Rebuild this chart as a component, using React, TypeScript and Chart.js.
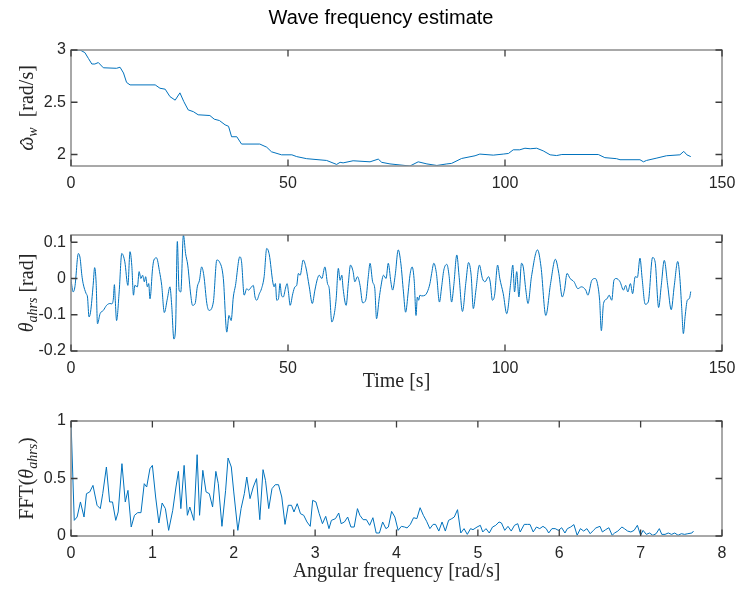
import React, { useEffect, useRef } from 'react';
import { Chart, registerables } from 'chart.js';

Chart.register(...registerables);

const BLUE = '#0072BD';
const TICK_FONT = { family: '"Liberation Sans", Arial, sans-serif', size: 16 };
const TICK_COLOR = '#262626';

const figureTitle = 'Wave frequency estimate';
const timeAxisTitle = 'Time [s]';
const freqAxisTitle = 'Angular frequency [rad/s]';

// --- Plot 1: estimated wave frequency ---
const omegaTime = [0, 2.1, 3.2, 4.0, 4.8, 5.5, 6.3, 7.45, 10.5, 11.3, 12.1, 12.8, 13.6, 19.4, 20.5, 21.7, 22.8, 24.0, 25.1, 26.0, 27.0, 28.2, 29.3, 32.0, 33.0, 34.2, 35.5, 36.3, 37.0, 38.2, 39.3, 43.5, 45.1, 46.2, 48.5, 50.9, 52.0, 54.3, 58.9, 61.2, 62.0, 62.7, 65.0, 68.9, 70.8, 71.6, 73.5, 75.8, 78.1, 80.0, 82.0, 84.3, 86.6, 87.7, 90.0, 93.1, 94.2, 97.3, 99.6, 100.8, 101.9, 103.4, 104.6, 105.8, 107.3, 108.8, 110.4, 111.9, 113.1, 121.5, 123.0, 125.7, 126.5, 131.1, 131.9, 132.6, 135.0, 137.2, 140.3, 141.2, 141.9, 142.8];
const omegaValues = [3.0, 3.0, 2.975, 2.92, 2.866, 2.866, 2.88, 2.83, 2.825, 2.835, 2.78, 2.69, 2.666, 2.666, 2.634, 2.625, 2.554, 2.52, 2.59, 2.506, 2.427, 2.41, 2.38, 2.373, 2.338, 2.325, 2.284, 2.27, 2.17, 2.17, 2.1, 2.1, 2.07, 2.026, 1.997, 1.997, 1.98, 1.96, 1.943, 1.905, 1.925, 1.92, 1.94, 1.93, 1.956, 1.925, 1.91, 1.9, 1.89, 1.93, 1.91, 1.895, 1.91, 1.915, 1.962, 1.988, 2.004, 1.994, 2.004, 2.01, 2.045, 2.045, 2.06, 2.055, 2.06, 2.035, 1.997, 1.99, 2.0, 2.0, 1.97, 1.96, 1.95, 1.95, 1.93, 1.943, 1.966, 1.988, 1.997, 2.03, 1.997, 1.98];
const omegaTicks = [2, 2.5, 3];

// --- Plot 2: AHRS pitch angle ---
const thetaTime = [0, 0.5, 0.9, 1.7, 2.1, 2.5, 2.8, 3.5, 3.8, 4.15, 4.5, 5.1, 5.45, 5.8, 6.1, 6.7, 7.45, 8.2, 9.0, 9.4, 9.75, 10.0, 10.2, 10.5, 11.1, 11.7, 12.4, 13.1, 13.6, 14.0, 14.4, 14.7, 15.3, 15.7, 16.1, 16.5, 16.9, 17.2, 17.6, 17.9, 18.2, 18.8, 19.1, 19.7, 20.4, 20.9, 21.5, 22.2, 22.8, 23.2, 23.7, 24.1, 24.5, 24.9, 25.3, 25.9, 26.4, 26.9, 27.6, 28.0, 28.6, 29.1, 29.6, 30.1, 30.6, 31.3, 31.8, 32.8, 33.6, 34.2, 35.1, 35.9, 36.4, 36.9, 37.4, 37.9, 38.9, 39.3, 39.9, 40.5, 40.9, 41.6, 42.0, 42.4, 42.8, 43.4, 43.9, 44.5, 45.1, 45.7, 46.5, 46.8, 47.1, 47.4, 47.8, 48.15, 48.5, 48.9, 49.5, 49.8, 50.1, 50.5, 51.1, 51.6, 52.0, 52.4, 52.8, 53.5, 54.1, 54.9, 55.6, 56.2, 56.8, 57.2, 57.8, 58.5, 59.1, 59.5, 60.1, 60.6, 61.1, 61.6, 62.0, 62.4, 62.7, 63.4, 63.9, 64.4, 65.0, 65.4, 66.0, 66.6, 67.2, 67.9, 68.5, 68.9, 69.5, 70.0, 70.4, 71.0, 71.4, 72.0, 72.6, 73.1, 73.7, 74.1, 74.7, 75.4, 76.0, 76.6, 77.1, 77.7, 78.1, 78.6, 79.1, 79.5, 79.8, 80.1, 80.4, 80.8, 81.6, 82.1, 82.7, 83.1, 83.6, 84.2, 84.9, 85.4, 85.9, 86.6, 87.1, 87.7, 88.2, 88.9, 89.4, 90.2, 91.0, 91.6, 92.2, 92.7, 93.3, 94.1, 94.8, 95.4, 96.2, 96.6, 97.1, 97.6, 98.3, 98.8, 99.6, 100.4, 101.3, 101.8, 102.2, 102.7, 103.2, 103.8, 104.2, 104.8, 105.3, 106.1, 107.5, 108.3, 109.4, 110.5, 111.6, 112.4, 113.2, 113.7, 114.3, 115.0, 115.9, 116.8, 117.6, 118.6, 119.1, 120.0, 120.8, 121.3, 121.8, 122.2, 122.7, 123.5, 124.0, 124.6, 125.1, 125.6, 126.5, 127.3, 127.8, 128.3, 128.9, 129.4, 130.0, 130.5, 131.1, 131.6, 132.3, 133.0, 134.0, 134.6, 135.4, 136.0, 136.7, 137.5, 138.3, 139.0, 139.8, 140.3, 140.7, 141.1, 141.5, 142.0, 142.5, 142.8];
const thetaValues = [-0.004, -0.037, -0.023, 0.069, 0.056, 0.009, -0.014, -0.042, -0.051, -0.106, -0.093, -0.019, 0.03, -0.014, -0.125, -0.097, -0.088, -0.074, -0.069, -0.07, -0.057, -0.017, -0.06, -0.116, -0.037, 0.069, 0.046, -0.019, 0.074, 0.037, -0.046, -0.019, -0.023, 0.019, 0.0, 0.009, -0.009, 0.005, -0.023, -0.014, -0.056, 0.028, 0.051, 0.057, 0.019, -0.019, -0.094, -0.056, -0.023, -0.074, -0.167, -0.134, 0.102, -0.032, -0.037, 0.12, 0.069, 0.037, -0.046, -0.074, -0.069, -0.023, -0.005, 0.032, 0.009, -0.069, -0.088, -0.065, 0.051, 0.046, 0.0, -0.148, -0.102, -0.116, -0.051, -0.019, 0.06, 0.046, -0.046, -0.028, -0.032, -0.023, -0.019, -0.051, -0.06, -0.042, -0.028, 0.005, 0.083, 0.065, -0.01, -0.023, -0.014, -0.06, -0.056, -0.014, -0.046, -0.051, -0.023, -0.014, -0.037, -0.074, -0.042, -0.023, -0.019, 0.014, 0.009, 0.051, 0.032, -0.023, -0.069, -0.032, 0.0, 0.009, 0.0, 0.032, -0.014, -0.028, -0.12, -0.102, -0.056, 0.028, -0.005, 0.009, -0.028, -0.074, -0.014, 0.037, 0.019, -0.009, 0.005, -0.019, -0.067, -0.06, 0.005, 0.042, -0.009, -0.028, -0.111, -0.056, -0.023, 0.009, 0.0, 0.042, -0.009, -0.032, 0.009, 0.079, 0.042, -0.037, -0.093, -0.037, 0.009, 0.032, -0.009, -0.102, -0.051, -0.06, -0.046, -0.048, -0.046, -0.037, -0.014, 0.014, 0.042, 0.014, -0.065, -0.023, 0.023, 0.039, 0.009, -0.065, -0.019, 0.065, 0.009, -0.091, -0.009, 0.044, 0.009, -0.083, -0.032, 0.037, 0.0, -0.009, 0.005, -0.01, -0.06, -0.046, 0.037, 0.0, -0.042, -0.097, -0.014, 0.037, -0.037, 0.019, -0.051, 0.042, 0.032, -0.032, -0.069, 0.005, 0.079, 0.032, -0.102, -0.014, 0.053, 0.014, -0.051, -0.032, 0.014, 0.0, -0.009, -0.028, -0.023, -0.032, -0.046, -0.005, 0.0, -0.014, -0.06, -0.144, -0.069, -0.056, -0.046, -0.06, -0.005, 0.0, -0.009, -0.032, -0.019, -0.037, -0.014, -0.042, 0.005, 0.003, 0.056, 0.0, -0.071, -0.065, 0.058, 0.045, -0.08, -0.02, 0.05, -0.02, -0.086, -0.02, 0.047, 0.0, -0.078, -0.152, -0.105, -0.06, -0.055, -0.036];
const thetaTicks = [-0.2, -0.1, 0, 0.1];

// --- Plot 3: FFT of the pitch angle ---
const fftFreq = [0, 0.04, 0.075, 0.116, 0.16, 0.19, 0.23, 0.27, 0.32, 0.36, 0.39, 0.435, 0.475, 0.51, 0.55, 0.58, 0.626, 0.667, 0.7, 0.74, 0.78, 0.82, 0.86, 0.9, 0.93, 0.97, 1.0, 1.04, 1.08, 1.12, 1.16, 1.2, 1.25, 1.29, 1.32, 1.35, 1.39, 1.43, 1.46, 1.51, 1.55, 1.58, 1.62, 1.66, 1.7, 1.74, 1.78, 1.81, 1.855, 1.9, 1.93, 1.97, 2.0, 2.05, 2.09, 2.13, 2.16, 2.2, 2.24, 2.28, 2.32, 2.36, 2.39, 2.43, 2.47, 2.51, 2.55, 2.59, 2.63, 2.67, 2.71, 2.74, 2.78, 2.82, 2.86, 2.9, 2.94, 2.97, 3.01, 3.05, 3.09, 3.13, 3.17, 3.2, 3.25, 3.29, 3.32, 3.36, 3.4, 3.44, 3.48, 3.52, 3.55, 3.59, 3.63, 3.67, 3.71, 3.75, 3.79, 3.83, 3.87, 3.9, 3.94, 3.98, 4.02, 4.06, 4.1, 4.13, 4.17, 4.21, 4.25, 4.29, 4.33, 4.37, 4.41, 4.45, 4.48, 4.52, 4.56, 4.6, 4.64, 4.68, 4.71, 4.75, 4.79, 4.83, 4.87, 4.91, 4.94, 4.99, 5.03, 5.06, 5.1, 5.14, 5.18, 5.22, 5.26, 5.29, 5.33, 5.37, 5.41, 5.45, 5.49, 5.52, 5.57, 5.61, 5.64, 5.68, 5.72, 5.76, 5.8, 5.84, 5.87, 5.91, 5.95, 5.99, 6.03, 6.07, 6.1, 6.14, 6.18, 6.22, 6.26, 6.3, 6.34, 6.38, 6.42, 6.45, 6.5, 6.53, 6.57, 6.61, 6.65, 6.68, 6.72, 6.77, 6.8, 6.84, 6.88, 6.92, 6.96, 7.0, 7.03, 7.07, 7.11, 7.15, 7.19, 7.23, 7.26, 7.3, 7.34, 7.38, 7.42, 7.46, 7.5, 7.54, 7.58, 7.63, 7.65];
const fftAmp = [1.0, 0.136, 0.165, 0.296, 0.165, 0.368, 0.383, 0.44, 0.267, 0.238, 0.368, 0.6, 0.296, 0.296, 0.136, 0.209, 0.629, 0.296, 0.397, 0.078, 0.18, 0.203, 0.203, 0.455, 0.426, 0.585, 0.614, 0.339, 0.113, 0.287, 0.238, 0.049, 0.223, 0.426, 0.562, 0.238, 0.614, 0.18, 0.252, 0.136, 0.707, 0.18, 0.571, 0.383, 0.368, 0.252, 0.562, 0.455, 0.084, 0.397, 0.678, 0.6, 0.383, 0.049, 0.238, 0.368, 0.513, 0.325, 0.426, 0.499, 0.142, 0.577, 0.484, 0.238, 0.412, 0.446, 0.446, 0.339, 0.101, 0.267, 0.267, 0.209, 0.281, 0.194, 0.18, 0.122, 0.084, 0.31, 0.296, 0.194, 0.107, 0.171, 0.064, 0.136, 0.151, 0.2, 0.107, 0.122, 0.165, 0.078, 0.078, 0.238, 0.18, 0.142, 0.142, 0.093, 0.159, 0.026, 0.026, 0.122, 0.064, 0.078, 0.214, 0.165, 0.049, 0.084, 0.078, 0.07, 0.101, 0.159, 0.151, 0.246, 0.18, 0.128, 0.064, 0.101, 0.101, 0.043, 0.122, 0.043, 0.136, 0.151, 0.165, 0.229, 0.026, 0.064, 0.014, 0.064, 0.055, 0.078, 0.093, 0.035, 0.064, 0.026, 0.078, 0.093, 0.122, 0.113, 0.049, 0.084, 0.043, 0.093, 0.107, 0.035, 0.101, 0.101, 0.101, 0.035, 0.078, 0.064, 0.084, 0.064, 0.026, 0.064, 0.064, 0.049, 0.072, 0.026, 0.064, 0.078, 0.099, 0.006, 0.064, 0.043, 0.064, 0.02, 0.049, 0.07, 0.084, 0.035, 0.055, 0.072, 0.006, 0.026, 0.043, 0.078, 0.064, 0.043, 0.035, 0.049, 0.093, 0.006, 0.049, 0.014, 0.026, 0.006, 0.02, 0.064, 0.014, 0.014, 0.026, 0.014, 0.026, 0.006, 0.02, 0.014, 0.02, 0.026, 0.043];
const fftTicks = [0, 0.5, 1];

type Part = { t: string; it?: boolean; sub?: boolean; hat?: boolean };

const omegaLabel: Part[] = [{ t: 'ω', it: true, hat: true }, { t: 'w', it: true, sub: true }, { t: '  [rad/s]' }];
const thetaLabel: Part[] = [{ t: 'θ', it: true }, { t: 'ahrs', it: true, sub: true }, { t: ' [rad]' }];
const fftLabel: Part[] = [{ t: 'FFT(' }, { t: 'θ', it: true }, { t: 'ahrs', it: true, sub: true }, { t: ')' }];

const SERIF = '"Liberation Serif", "Times New Roman", serif';
const SANS = '"Liberation Sans", Arial, sans-serif';

function partFont(p: Part) {
  const size = p.sub ? 14 : 20;
  return `${p.it ? 'italic ' : ''}${size}px ${SERIF}`;
}

function fmtTick(v: number | string) {
  return String(Number(Number(v).toFixed(3)));
}

function framePlugin(yLabel: Part[], labelX: number, title?: string) {
  return {
    id: 'matlabFrame',
    afterDatasetsDraw(chart: any) {
      const ctx = chart.ctx as CanvasRenderingContext2D;
      const { left, right, top, bottom } = chart.chartArea;
      const xs = chart.scales.x;
      const ys = chart.scales.y;
      ctx.save();
      ctx.strokeStyle = '#8c8c8c';
      ctx.lineWidth = 1.5;
      ctx.strokeRect(left, top, right - left, bottom - top);
      ctx.strokeStyle = '#3c3c3c';
      ctx.lineWidth = 1.3;
      const tl = 6.5;
      ctx.beginPath();
      xs.ticks.forEach((tk: any) => {
        const px = xs.getPixelForValue(tk.value);
        ctx.moveTo(px, bottom);
        ctx.lineTo(px, bottom - tl);
        ctx.moveTo(px, top);
        ctx.lineTo(px, top + tl);
      });
      ys.ticks.forEach((tk: any) => {
        const py = ys.getPixelForValue(tk.value);
        ctx.moveTo(left, py);
        ctx.lineTo(left + tl, py);
        ctx.moveTo(right, py);
        ctx.lineTo(right - tl, py);
      });
      ctx.stroke();

      if (title) {
        ctx.fillStyle = '#000';
        ctx.font = `20px ${SANS}`;
        ctx.textAlign = 'center';
        ctx.textBaseline = 'middle';
        ctx.fillText(title, 381, 18);
      }

      // rotated y-axis label with subscripts
      ctx.translate(labelX, (top + bottom) / 2);
      ctx.rotate(-Math.PI / 2);
      ctx.fillStyle = '#262626';
      ctx.textBaseline = 'alphabetic';
      ctx.textAlign = 'left';
      let total = 0;
      yLabel.forEach((p) => {
        ctx.font = partFont(p);
        total += ctx.measureText(p.t).width;
      });
      let x = -total / 2;
      yLabel.forEach((p) => {
        ctx.font = partFont(p);
        const w = ctx.measureText(p.t).width;
        ctx.fillText(p.t, x, p.sub ? 4 : 0);
        if (p.hat) {
          ctx.textAlign = 'center';
          ctx.font = `20px ${SERIF}`;
          ctx.fillText('ˆ', x + w / 2 + 1.5, 2);
          ctx.textAlign = 'left';
        }
        x += w;
      });
      ctx.restore();
    },
  };
}

interface PlotSpec {
  xs: number[];
  ys: number[];
  xMin: number;
  xMax: number;
  xStep: number;
  yMin: number;
  yMax: number;
  yTicks: number[];
  title?: string;
  xTitle?: string;
  padTop: number;
  xHeight: number;
  yLabel: Part[];
  smooth: boolean;
}

function buildChart(canvas: HTMLCanvasElement, s: PlotSpec) {
  const points = s.xs.map((x, i) => ({ x, y: s.ys[i] }));
  return new Chart(canvas, {
    type: 'line',
    data: {
      datasets: [
        {
          data: points,
          borderColor: BLUE,
          borderWidth: 1,
          pointRadius: 0,
          fill: false,
          tension: 0,
          cubicInterpolationMode: s.smooth ? 'monotone' : 'default',
        } as any,
      ],
    },
    options: {
      responsive: false,
      animation: false,
      devicePixelRatio: 1,
      layout: { padding: { top: s.padTop, left: 0, right: 15, bottom: 0 } },
      plugins: {
        legend: { display: false },
        tooltip: { enabled: false },
        title: { display: false },
      },
      scales: {
        x: {
          type: 'linear',
          min: s.xMin,
          max: s.xMax,
          grid: { display: false, drawTicks: false },
          border: { display: false },
          ticks: {
            stepSize: s.xStep,
            padding: 8,
            maxRotation: 0,
            autoSkip: false,
            includeBounds: false,
            color: TICK_COLOR,
            font: TICK_FONT,
            callback: (v: any) => fmtTick(v),
          },
          title: s.xTitle
            ? { display: true, text: s.xTitle, color: '#262626', font: { family: SERIF, size: 20 }, padding: { top: 0, bottom: 6 } }
            : { display: false },
          afterFit: (sc: any) => {
            sc.height = s.xHeight;
            sc.paddingLeft = 0;
            sc.paddingRight = 0;
          },
        },
        y: {
          type: 'linear',
          min: s.yMin,
          max: s.yMax,
          grid: { display: false, drawTicks: false },
          border: { display: false },
          afterBuildTicks: (sc: any) => {
            sc.ticks = s.yTicks.map((v) => ({ value: v }));
          },
          ticks: {
            padding: 5,
            autoSkip: false,
            color: TICK_COLOR,
            font: TICK_FONT,
            callback: (v: any) => fmtTick(v),
          },
          afterFit: (sc: any) => {
            sc.width = 71;
            sc.paddingTop = 0;
            sc.paddingBottom = 0;
          },
        },
      },
    },
    plugins: [framePlugin(s.yLabel, 33, s.title)],
  });
}

export default function App() {
  const c1 = useRef<HTMLCanvasElement>(null);
  const c2 = useRef<HTMLCanvasElement>(null);
  const c3 = useRef<HTMLCanvasElement>(null);

  useEffect(() => {
    document.body.style.margin = '0';
    document.body.style.background = '#fff';
    const charts = [
      buildChart(c1.current!, {
        xs: omegaTime, ys: omegaValues, xMin: 0, xMax: 150, xStep: 50,
        yMin: 1.89, yMax: 3, yTicks: omegaTicks, title: figureTitle,
        padTop: 50, xHeight: 34, yLabel: omegaLabel, smooth: false,
      }),
      buildChart(c2.current!, {
        xs: thetaTime, ys: thetaValues, xMin: 0, xMax: 150, xStep: 50,
        yMin: -0.2, yMax: 0.12, yTicks: thetaTicks, xTitle: timeAxisTitle,
        padTop: 35, xHeight: 49, yLabel: thetaLabel, smooth: true,
      }),
      buildChart(c3.current!, {
        xs: fftFreq, ys: fftAmp, xMin: 0, xMax: 8, xStep: 1,
        yMin: 0, yMax: 1, yTicks: fftTicks, xTitle: freqAxisTitle,
        padTop: 21, xHeight: 54, yLabel: fftLabel, smooth: false,
      }),
    ];
    return () => charts.forEach((c) => c.destroy());
  }, []);

  const cs: React.CSSProperties = { position: 'absolute', left: 0, display: 'block' };
  return (
    <div style={{ position: 'absolute', left: 0, top: 0, width: 737, height: 590, background: '#fff' }}>
      <canvas ref={c1} width={737} height={200} style={{ ...cs, top: 0 }} />
      <canvas ref={c2} width={737} height={200} style={{ ...cs, top: 200 }} />
      <canvas ref={c3} width={737} height={190} style={{ ...cs, top: 400 }} />
    </div>
  );
}
